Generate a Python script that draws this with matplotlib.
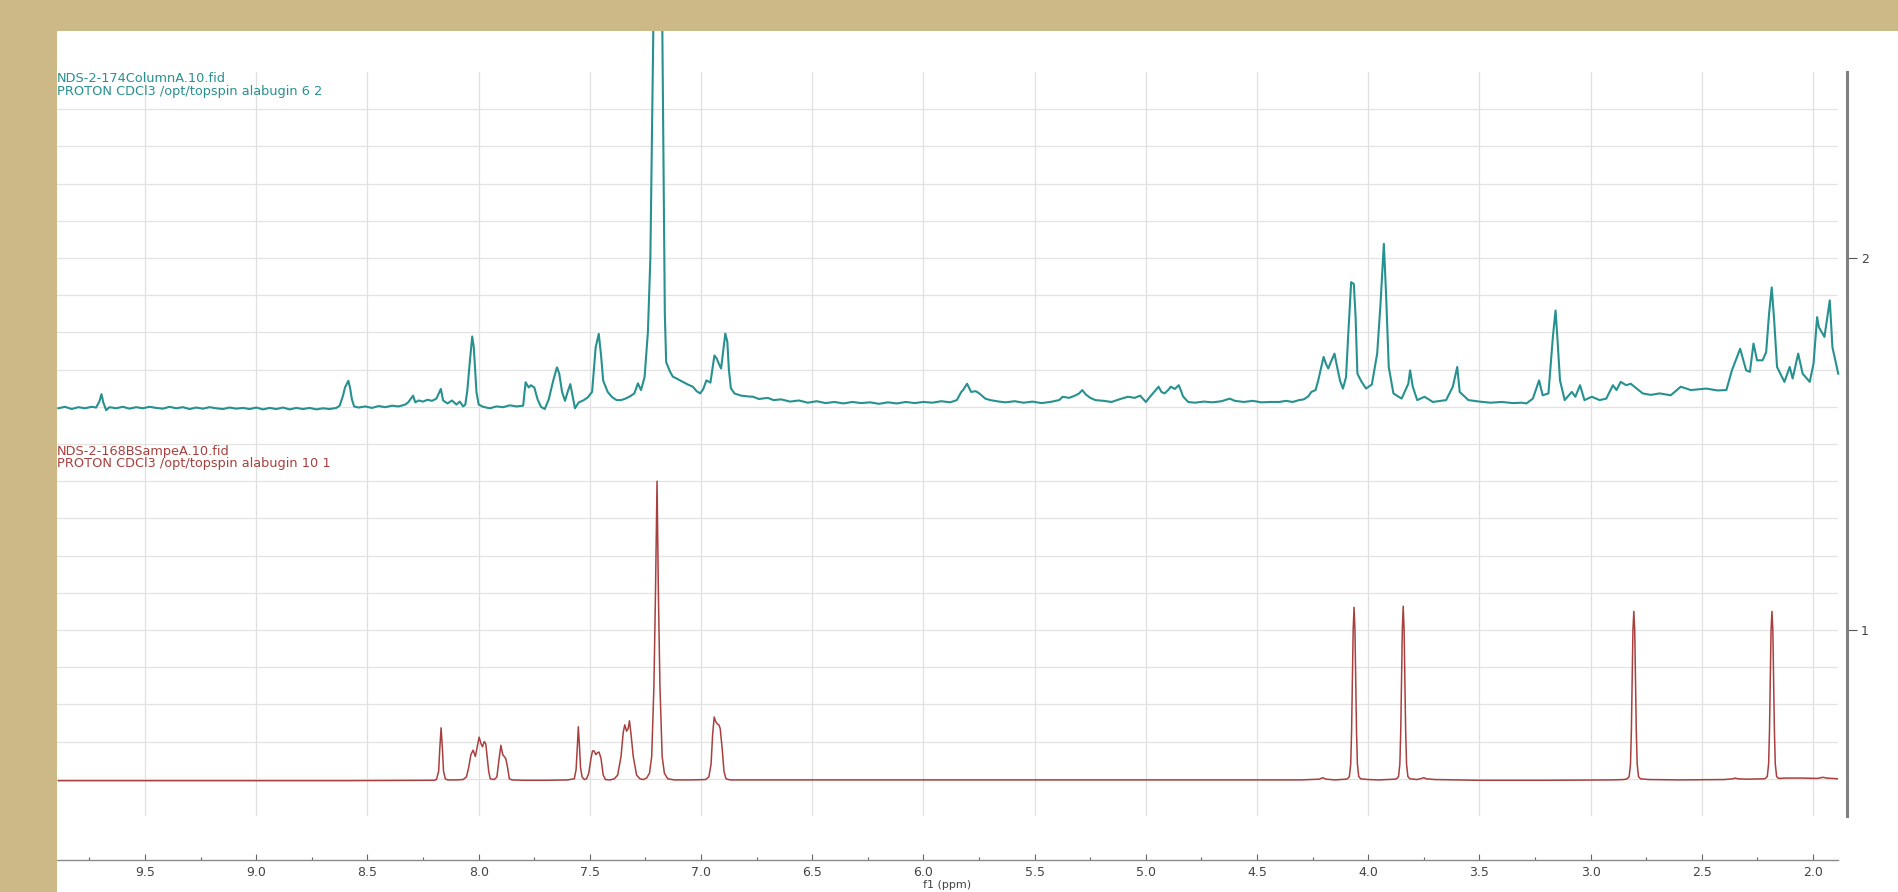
import matplotlib
matplotlib.use("Agg")
import matplotlib.pyplot as plt
from matplotlib.patches import Rectangle
from matplotlib.ticker import MultipleLocator, FixedLocator, FormatStrFormatter

# === Spectrum 1 (top, teal): NDS-2-174ColumnA ===
top_ppm = [9.89, 9.86, 9.83, 9.80, 9.77, 9.74, 9.72, 9.705, 9.696, 9.688, 9.675, 9.66, 9.63, 9.60, 9.57,
           9.54, 9.51, 9.48, 9.45, 9.42, 9.39, 9.36, 9.33, 9.30, 9.27, 9.24, 9.21, 9.18, 9.15, 9.12,
           9.09, 9.06, 9.03, 9.00, 8.97, 8.94, 8.91, 8.88, 8.85, 8.82, 8.79, 8.76, 8.73, 8.70, 8.67,
           8.64, 8.625, 8.61, 8.601, 8.586, 8.578, 8.57, 8.56, 8.54, 8.51, 8.48, 8.45, 8.42, 8.39, 8.36,
           8.33, 8.317, 8.295, 8.285, 8.27, 8.25, 8.23, 8.21, 8.19, 8.17, 8.16, 8.14, 8.12, 8.10, 8.085,
           8.07, 8.06, 8.051, 8.04, 8.029, 8.022, 8.016, 8.01, 8.00, 7.98, 7.95, 7.92, 7.89, 7.86, 7.83,
           7.80, 7.789, 7.775, 7.765, 7.75, 7.735, 7.72, 7.703, 7.685, 7.665, 7.648, 7.638, 7.625, 7.612, 7.60,
           7.588, 7.578, 7.567, 7.55, 7.53, 7.51, 7.49, 7.474, 7.46, 7.45, 7.44, 7.42, 7.40, 7.38, 7.36,
           7.34, 7.32, 7.30, 7.284, 7.27, 7.254, 7.239, 7.228, 7.215, 7.205, 7.195, 7.183, 7.174, 7.163, 7.157,
           7.14, 7.127, 7.11, 7.082, 7.06, 7.037, 7.02, 7.004, 6.99, 6.976, 6.958, 6.94, 6.93, 6.921, 6.91,
           6.891, 6.882, 6.875, 6.866, 6.85, 6.82, 6.79, 6.766, 6.74, 6.70, 6.674, 6.64, 6.60, 6.56, 6.52,
           6.48, 6.44, 6.40, 6.36, 6.32, 6.28, 6.24, 6.20, 6.16, 6.12, 6.08, 6.04, 6.00, 5.96, 5.92,
           5.88, 5.85, 5.83, 5.822, 5.804, 5.786, 5.765, 5.749, 5.722, 5.70, 5.66, 5.63, 5.59, 5.55, 5.51,
           5.47, 5.43, 5.39, 5.374, 5.345, 5.319, 5.30, 5.286, 5.27, 5.25, 5.227, 5.19, 5.154, 5.12, 5.081,
           5.05, 5.026, 5.00, 4.98, 4.963, 4.943, 4.93, 4.916, 4.90, 4.888, 4.87, 4.852, 4.84, 4.833, 4.81,
           4.78, 4.74, 4.70, 4.66, 4.623, 4.60, 4.56, 4.52, 4.48, 4.44, 4.40, 4.37, 4.34, 4.311, 4.29,
           4.27, 4.256, 4.237, 4.225, 4.201, 4.19, 4.18, 4.165, 4.152, 4.14, 4.127, 4.114, 4.10, 4.09, 4.077,
           4.065, 4.057, 4.049, 4.03, 4.01, 3.984, 3.96, 3.945, 3.930, 3.92, 3.908, 3.887, 3.85, 3.82, 3.812,
           3.80, 3.78, 3.747, 3.71, 3.65, 3.62, 3.600, 3.589, 3.55, 3.50, 3.45, 3.40, 3.35, 3.31, 3.289,
           3.26, 3.232, 3.216, 3.19, 3.17, 3.158, 3.15, 3.138, 3.117, 3.085, 3.069, 3.048, 3.028, 2.995, 2.96,
           2.93, 2.90, 2.884, 2.865, 2.84, 2.82, 2.766, 2.73, 2.69, 2.64, 2.595, 2.55, 2.48, 2.43, 2.39,
           2.365, 2.328, 2.301, 2.284, 2.268, 2.252, 2.227, 2.211, 2.198, 2.186, 2.175, 2.162, 2.129, 2.105, 2.092,
           2.067, 2.047, 2.015, 1.998, 1.982, 1.974, 1.949, 1.925, 1.913, 1.90, 1.887]
top_int = [1.596, 1.600, 1.594, 1.599, 1.596, 1.600, 1.598, 1.615, 1.634, 1.612, 1.591, 1.599, 1.596, 1.600, 1.595,
           1.599, 1.596, 1.600, 1.597, 1.595, 1.600, 1.596, 1.599, 1.594, 1.598, 1.595, 1.599, 1.596, 1.594, 1.598,
           1.595, 1.597, 1.594, 1.598, 1.593, 1.597, 1.594, 1.598, 1.593, 1.597, 1.594, 1.597, 1.593, 1.596, 1.594,
           1.597, 1.603, 1.630, 1.652, 1.670, 1.650, 1.620, 1.601, 1.598, 1.601, 1.597, 1.602, 1.599, 1.603, 1.601,
           1.606, 1.612, 1.630, 1.612, 1.617, 1.614, 1.619, 1.616, 1.622, 1.648, 1.617, 1.609, 1.617, 1.606, 1.614,
           1.601, 1.606, 1.644, 1.720, 1.789, 1.760, 1.700, 1.640, 1.606, 1.600, 1.596, 1.601, 1.599, 1.604, 1.601,
           1.603, 1.666, 1.652, 1.658, 1.652, 1.620, 1.600, 1.594, 1.620, 1.670, 1.706, 1.690, 1.640, 1.616, 1.640,
           1.661, 1.630, 1.596, 1.612, 1.617, 1.625, 1.640, 1.760, 1.796, 1.740, 1.670, 1.640, 1.626, 1.618, 1.618,
           1.622, 1.628, 1.636, 1.663, 1.645, 1.680, 1.802, 2.000, 2.600, 3.600, 4.000, 3.600, 2.600, 1.850, 1.720,
           1.695, 1.681, 1.676, 1.667, 1.660, 1.654, 1.642, 1.636, 1.648, 1.671, 1.665, 1.738, 1.730, 1.717, 1.703,
           1.797, 1.775, 1.700, 1.650, 1.636, 1.630, 1.628, 1.627, 1.621, 1.624, 1.618, 1.620, 1.614, 1.617, 1.611,
           1.615, 1.610, 1.613, 1.609, 1.613, 1.610, 1.612, 1.608, 1.612, 1.609, 1.613, 1.610, 1.613, 1.611, 1.615,
           1.612, 1.618, 1.640, 1.645, 1.662, 1.640, 1.642, 1.636, 1.622, 1.618, 1.614, 1.612, 1.615, 1.611, 1.614,
           1.610, 1.613, 1.618, 1.627, 1.624, 1.630, 1.636, 1.645, 1.633, 1.624, 1.618, 1.616, 1.613, 1.620, 1.627,
           1.624, 1.630, 1.613, 1.628, 1.640, 1.654, 1.640, 1.636, 1.645, 1.654, 1.648, 1.658, 1.640, 1.628, 1.613,
           1.611, 1.614, 1.612, 1.615, 1.622, 1.616, 1.613, 1.616, 1.612, 1.613, 1.613, 1.616, 1.613, 1.618, 1.620,
           1.628, 1.640, 1.645, 1.671, 1.734, 1.715, 1.703, 1.725, 1.743, 1.707, 1.670, 1.649, 1.680, 1.796, 1.935,
           1.930, 1.841, 1.689, 1.667, 1.649, 1.660, 1.743, 1.877, 2.038, 1.902, 1.707, 1.636, 1.622, 1.662, 1.698,
           1.654, 1.618, 1.627, 1.613, 1.618, 1.654, 1.707, 1.640, 1.618, 1.614, 1.611, 1.613, 1.610, 1.611, 1.609,
           1.622, 1.671, 1.631, 1.636, 1.788, 1.859, 1.788, 1.671, 1.618, 1.640, 1.627, 1.658, 1.618, 1.627, 1.618,
           1.622, 1.658, 1.645, 1.667, 1.658, 1.662, 1.636, 1.632, 1.636, 1.631, 1.654, 1.645, 1.649, 1.644, 1.645,
           1.698, 1.756, 1.698, 1.694, 1.770, 1.725, 1.725, 1.747, 1.850, 1.921, 1.832, 1.707, 1.667, 1.707, 1.676,
           1.743, 1.689, 1.667, 1.716, 1.841, 1.814, 1.788, 1.886, 1.760, 1.725, 1.689]

# === Spectrum 2 (bottom, red): NDS-2-168BSampeA ===
bot_ppm = [9.89, 9.40, 8.90, 8.60, 8.20, 8.19, 8.18, 8.175, 8.169, 8.163, 8.158, 8.15, 8.14, 8.10, 8.07,
           8.055, 8.045, 8.035, 8.025, 8.015, 8.005, 7.998, 7.99, 7.983, 7.975, 7.968, 7.962, 7.955, 7.948, 7.93,
           7.918, 7.908, 7.90, 7.892, 7.885, 7.878, 7.87, 7.862, 7.85, 7.80, 7.70, 7.60, 7.57, 7.562, 7.556,
           7.552, 7.547, 7.542, 7.535, 7.525, 7.515, 7.505, 7.495, 7.488, 7.481, 7.473, 7.466, 7.459, 7.45, 7.44,
           7.43, 7.41, 7.39, 7.375, 7.36, 7.35, 7.343, 7.335, 7.328, 7.322, 7.315, 7.305, 7.29, 7.275, 7.26,
           7.245, 7.232, 7.222, 7.212, 7.205, 7.198, 7.192, 7.185, 7.175, 7.165, 7.15, 7.12, 7.04, 6.98, 6.965,
           6.955, 6.948, 6.941, 6.935, 6.928, 6.92, 6.914, 6.905, 6.897, 6.888, 6.87, 6.80, 6.00, 5.00, 4.60,
           4.30, 4.22, 4.205, 4.19, 4.15, 4.10, 4.094, 4.085, 4.079, 4.075, 4.072, 4.068, 4.064, 4.06, 4.056,
           4.053, 4.049, 4.043, 4.034, 4.00, 3.95, 3.88, 3.873, 3.864, 3.858, 3.854, 3.851, 3.847, 3.843, 3.839,
           3.835, 3.832, 3.828, 3.822, 3.813, 3.78, 3.76, 3.75, 3.74, 3.70, 3.50, 3.20, 2.90, 2.85, 2.836,
           2.827, 2.821, 2.817, 2.814, 2.810, 2.806, 2.802, 2.798, 2.795, 2.791, 2.785, 2.776, 2.74, 2.60, 2.40,
           2.36, 2.35, 2.34, 2.30, 2.22, 2.215, 2.206, 2.200, 2.196, 2.193, 2.189, 2.185, 2.181, 2.177, 2.174,
           2.170, 2.164, 2.155, 2.12, 2.05, 1.98, 1.965, 1.955, 1.94, 1.887]
bot_int = [0.595, 0.595, 0.595, 0.595, 0.596, 0.598, 0.620, 0.680, 0.737, 0.680, 0.620, 0.600, 0.597, 0.597, 0.598,
           0.605, 0.630, 0.665, 0.677, 0.660, 0.690, 0.712, 0.695, 0.686, 0.700, 0.694, 0.660, 0.620, 0.600, 0.598,
           0.605, 0.655, 0.690, 0.665, 0.660, 0.654, 0.630, 0.600, 0.597, 0.596, 0.596, 0.597, 0.600, 0.625, 0.690,
           0.740, 0.690, 0.630, 0.605, 0.598, 0.600, 0.615, 0.655, 0.675, 0.675, 0.665, 0.670, 0.672, 0.655, 0.610,
           0.598, 0.597, 0.600, 0.610, 0.660, 0.725, 0.745, 0.728, 0.735, 0.756, 0.720, 0.660, 0.610, 0.600, 0.598,
           0.602, 0.615, 0.660, 0.850, 1.100, 1.400, 1.100, 0.850, 0.660, 0.615, 0.600, 0.597, 0.597, 0.598, 0.605,
           0.640, 0.720, 0.766, 0.755, 0.748, 0.745, 0.735, 0.680, 0.620, 0.600, 0.597, 0.597, 0.597, 0.597, 0.597,
           0.597, 0.599, 0.603, 0.599, 0.597, 0.599, 0.600, 0.606, 0.640, 0.730, 0.850, 1.000, 1.061, 1.000, 0.850,
           0.730, 0.640, 0.606, 0.600, 0.598, 0.597, 0.599, 0.600, 0.606, 0.640, 0.730, 0.850, 1.000, 1.064, 1.000,
           0.850, 0.730, 0.640, 0.606, 0.600, 0.598, 0.601, 0.603, 0.600, 0.598, 0.596, 0.596, 0.597, 0.598, 0.600,
           0.606, 0.640, 0.730, 0.850, 1.000, 1.050, 1.000, 0.850, 0.730, 0.640, 0.606, 0.600, 0.598, 0.597, 0.598,
           0.600, 0.602, 0.600, 0.599, 0.600, 0.601, 0.606, 0.640, 0.730, 0.850, 1.000, 1.050, 1.000, 0.850, 0.730,
           0.640, 0.606, 0.601, 0.602, 0.602, 0.601, 0.603, 0.604, 0.602, 0.600]

x_ticks = [9.5, 9.0, 8.5, 8.0, 7.5, 7.0, 6.5, 6.0, 5.5, 5.0, 4.5, 4.0, 3.5, 3.0, 2.5, 2.0]
y_ticks = [1, 2]

top_title = ["NDS-2-174ColumnA.10.fid", "PROTON CDCl3 /opt/topspin alabugin 6 2"]
bot_title = ["NDS-2-168BSampeA.10.fid", "PROTON CDCl3 /opt/topspin alabugin 10 1"]

teal = "#27918f"
red = "#a8403f"
tan = "#cdb887"

W, H = 1899, 892
fig = plt.figure(figsize=(W / 100, H / 100), dpi=100)

# axes box in pixels: left 57, right 1838, top 72, bottom 816
ax = fig.add_axes([57 / W, (H - 816) / H, (1838 - 57) / W, (816 - 72) / H])
ax.set_xlim(9.896, 1.888)
ax.set_ylim(0.5, 2.5)

# grid
for gx in x_ticks:
    ax.axvline(gx, color="#e0e0e0", lw=0.9, zorder=0)
for i in range(6, 25):
    ax.axhline(i / 10, color="#e3e3e3", lw=0.9, zorder=0)

ax.plot(top_ppm, top_int, color=teal, lw=1.5, clip_on=False, zorder=3)
ax.plot(bot_ppm, bot_int, color=red, lw=1.1, zorder=3)

# spines
ax.spines["left"].set_visible(False)
ax.spines["top"].set_visible(False)
ax.spines["bottom"].set_position(("outward", 32))
ax.spines["bottom"].set_color("#8a8a8a")
ax.spines["bottom"].set_linewidth(1.0)
ax.spines["right"].set_position(("outward", 6.5))
ax.spines["right"].set_color("#808080")
ax.spines["right"].set_linewidth(2.2)

ax.xaxis.set_major_locator(FixedLocator(x_ticks))
ax.xaxis.set_minor_locator(MultipleLocator(0.25))
ax.xaxis.set_major_formatter(FormatStrFormatter("%.1f"))
ax.tick_params(axis="x", which="major", direction="in", length=4, width=0.8, color="#666666",
               labelsize=9, labelcolor="#444444", pad=4)
ax.tick_params(axis="x", which="minor", direction="in", length=2, width=0.8, color="#666666")

ax.yaxis.tick_right()
ax.yaxis.set_major_locator(FixedLocator(y_ticks))
ax.yaxis.set_minor_locator(FixedLocator([]))
ax.tick_params(axis="y", which="major", direction="out", length=7, width=0.8, color="#555555",
               labelsize=9, labelcolor="#444444", pad=3)

# axis title sits right at the bottom edge, as in the original screenshot
ax.set_xlabel("f1 (ppm)", fontsize=8, color="#444444", va="center")
ax.xaxis.set_label_coords(0.5 * (57 + 1838) / W, (H - 885) / H, transform=fig.transFigure)

# spectrum titles
fig.text(57 / W, (H - 79) / H, top_title[0], color=teal, fontsize=9.3, va="center", zorder=6)
fig.text(57 / W, (H - 92) / H, top_title[1], color=teal, fontsize=9.3, va="center", zorder=6)
fig.text(57 / W, (H - 451) / H, bot_title[0], color=red, fontsize=9.3, va="center", zorder=6)
fig.text(57 / W, (H - 463) / H, bot_title[1], color=red, fontsize=9.3, va="center", zorder=6)

# tan frame over everything
fig.patches.append(Rectangle((0, (H - 31) / H), 1, 31 / H, transform=fig.transFigure,
                             facecolor=tan, edgecolor="none", zorder=10))
fig.patches.append(Rectangle((0, 0), 57 / W, 1, transform=fig.transFigure,
                             facecolor=tan, edgecolor="none", zorder=10))

fig.savefig("out.png", dpi=100)
